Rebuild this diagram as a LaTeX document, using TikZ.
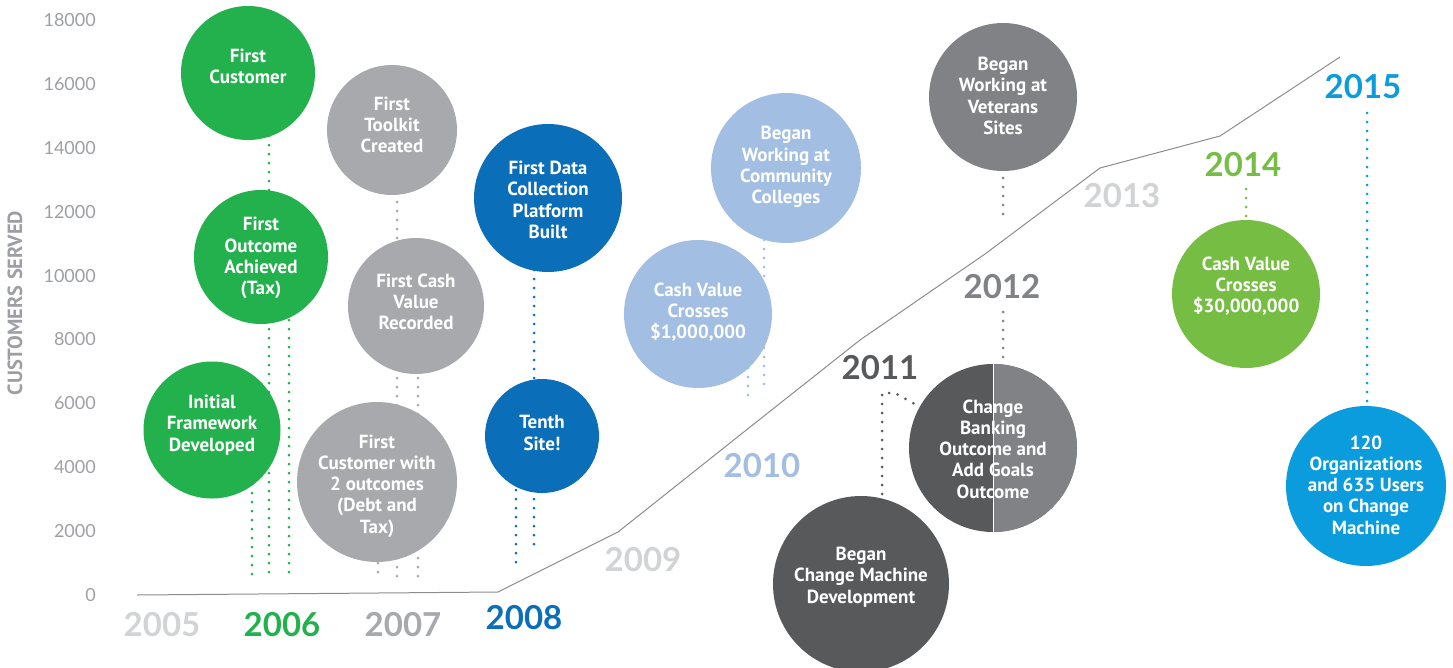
\documentclass[tikz,border=0pt]{standalone}
\usepackage{fontspec}
\setmainfont{PT Sans}
\newfontfamily\yearfont{Lato}
\usetikzlibrary{backgrounds}
\definecolor{cgreen}{HTML}{23B14D}
\definecolor{cgrayA}{HTML}{A7A9AC}
\definecolor{cblueA}{HTML}{0B6EB9}
\definecolor{clblue}{HTML}{A2BEE2}
\definecolor{cdark}{HTML}{58595B}
\definecolor{cmid}{HTML}{808285}
\definecolor{clgray}{HTML}{D1D3D4}
\definecolor{cgreenB}{HTML}{76BE43}
\definecolor{cblueB}{HTML}{0A9CDD}
\definecolor{ctick}{HTML}{9D9FA2}
\definecolor{cline}{HTML}{8C8C8C}
\begin{document}
\begin{tikzpicture}[x=1pt,y=-1pt,
  circ/.style={circle,inner sep=0pt,minimum size=#1,draw=none},
  ctext/.style={text=white,align=center,font=\fontsize{19}{21.3}\selectfont\bfseries,inner sep=0pt},
  yr/.style={font=\yearfont\fontsize{33}{33}\selectfont\bfseries,inner sep=0pt},
  tick/.style={anchor=east,text=ctick,font=\yearfont\fontsize{18}{18}\selectfont,inner sep=0pt},
  dots/.style={line width=3pt,dash pattern=on 0pt off 9pt,line cap=round},
  curve/.style={draw=cline,line width=1pt}
]
\useasboundingbox (0,0) rectangle (1453,667);

% axis
\foreach \v [count=\i from 0] in {18000,16000,14000,12000,10000,8000,6000,4000,2000,0}
  \node[tick] (tk\i) at (96,{20+\i*63.9}) {\v};
\node[rotate=90,text=ctick,font=\fontsize{20.5}{20.5}\selectfont\bfseries,inner sep=0pt] (ytitle) at (15,303) {CUSTOMERS SERVED};

% growth curve
\coordinate (p0) at (137,595);
\coordinate (p1) at (498,592);
\coordinate (p2) at (618,532);
\coordinate (p3) at (740,435);
\coordinate (p4) at (860,340);
\coordinate (p5) at (985,254);
\coordinate (p6) at (1100,168);
\coordinate (p7) at (1220,136);
\coordinate (p8) at (1340,57);
\draw[curve] (p0) -- (p1) -- (p2) -- (p3) -- (p4) -- (p5) -- (p6) -- (p7) -- (p8);

% year labels
\node[yr,text=clgray] (y05) at (162,625) {2005};
\node[yr,text=cgreen] (y06) at (282,625) {2006};
\node[yr,text=cgrayA] (y07) at (403,625) {2007};
\node[yr,text=cblueA] (y08) at (524,618) {2008};
\node[yr,text=clgray] (y09) at (643,560) {2009};
\node[yr,text=clblue] (y10) at (762,466) {2010};
\node[yr,text=cdark] (y11) at (880,368) {2011};
\node[yr,text=cmid] (y12) at (1002,287) {2012};
\node[yr,text=clgray] (y13) at (1122,196) {2013};
\node[yr,text=cgreenB] (y14) at (1243,165) {2014};
\node[yr,text=cblueB] (y15) at (1363,87) {2015};

% circles
\node[circ=134,fill=cgreen] (c1) at (248,73) {};
\node[circ=134,fill=cgreen] (c2) at (261,257) {};
\node[circ=137,fill=cgreen] (c3) at (212,430) {};
\node[circ=130,fill=cgrayA] (c4) at (392,130) {};
\node[circ=136,fill=cgrayA] (c5) at (416,306) {};
\node[circ=160,fill=cgrayA] (c6) at (377,482) {};
\node[circ=148,fill=cblueA] (c7) at (548,198) {};
\node[circ=114,fill=cblueA] (c8) at (542,436) {};
\node[circ=150,fill=clblue] (c9) at (786,168) {};
\node[circ=148,fill=clblue] (c10) at (698,314) {};
\node[circ=176,fill=cdark] (c11) at (861,584) {};
\node[circ=168,fill=cdark,path picture={
   \fill[cmid] (path picture bounding box.north) rectangle (path picture bounding box.south east);
   \draw[white,line width=0.6pt] (path picture bounding box.north) -- (path picture bounding box.south);}] (c12) at (993,448) {};
\node[circ=148,fill=cmid] (c13) at (1003,97) {};
\node[circ=148,fill=cgreenB] (c14) at (1246,294) {};
\node[circ=160,fill=cblueB] (c15) at (1366,486) {};

% texts
\node[ctext] (t1) at (248,66.5) {First\\Customer};
\node[ctext] (t2) at (261,258) {First\\Outcome\\Achieved\\(Tax)};
\node[ctext] (t3) at (212,425) {Initial\\Framework\\Developed};
\node[ctext] (t4) at (392,125) {First\\Toolkit\\Created};
\node[ctext] (t5) at (416,302) {First Cash\\Value\\Recorded};
\node[ctext] (t6) at (377,486) {First\\Customer with\\2 outcomes\\(Debt and\\Tax)};
\node[ctext] (t7) at (548,200) {First Data\\Collection\\Platform\\Built};
\node[ctext] (t8) at (542,433) {Tenth\\Site!};
\node[ctext] (t9) at (786,167) {Began\\Working at\\Community\\Colleges};
\node[ctext] (t10) at (698,312) {Cash Value\\Crosses\\\$1,000,000};
\node[ctext] (t11) at (861,577) {Began\\Change Machine\\Development};
\node[ctext] (t12) at (993,449) {Change\\Banking\\Outcome and\\Add Goals\\Outcome};
\node[ctext] (t13) at (1003,96) {Began\\Working at\\Veterans\\Sites};
\node[ctext] (t14) at (1246,286) {Cash Value\\Crosses\\\$30,000,000};
\node[ctext] (t15) at (1366,485) {120\\Organizations\\and 635 Users\\on Change\\Machine};

% dotted connectors (behind circles)
\begin{scope}[on background layer]
  % 2006
  \draw[dots,cgreen] ([xshift=21pt]c1.center) -- ([xshift=8pt]c2.center);
  \coordinate (g1) at (269,577);
  \coordinate (g2) at (289,577);
  \coordinate (g3) at (252,577);
  \draw[dots,cgreen] ([xshift=8pt]c2.center) -- (g1);
  \draw[dots,cgreen] ([xshift=28pt]c2.center) -- (g2);
  \draw[dots,cgreen] ([xshift=40pt]c3.center) -- (g3);
  % 2007
  \coordinate (k1) at (397,577);
  \coordinate (k2) at (418,577);
  \coordinate (k3) at (378,577);
  \draw[dots,cgrayA] ([xshift=5pt]c4.center) -- ([xshift=-19pt]c5.center);
  \draw[dots,cgrayA] ([xshift=-19pt]c5.center) -- (k1);
  \draw[dots,cgrayA] ([xshift=2pt]c5.center) -- (k2);
  \draw[dots,cgrayA] ([xshift=1pt]c6.center) -- (k3);
  % 2008
  \coordinate (b1) at (534,548);
  \coordinate (b2) at (516,562);
  \draw[dots,cblueA] ([xshift=-14pt]c7.center) -- ([xshift=-8pt]c8.center);
  \draw[dots,cblueA] ([xshift=-8pt]c8.center) -- (b1);
  \draw[dots,cblueA] ([xshift=-26pt]c8.center) -- (b2);
  % 2010
  \coordinate (l1) at (764,390);
  \coordinate (l2) at (748,403);
  \draw[dots,clblue] ([xshift=-22pt]c9.center) -- (l1);
  \draw[dots,clblue] ([xshift=50pt]c10.center) -- (l2);
  % 2011
  \coordinate (d1) at (882,393);
  \coordinate (d2) at (895,393);
  \draw[dots,cdark] ([xshift=21pt]c11.center) -- (d1) -- (d2) -- (c12.center);
  % 2012 and 2013
  \coordinate (m1) at (1003,312);
  \coordinate (m2) at (1003,220);
  \draw[dots,cmid] (m1) -- ([xshift=10pt]c12.center);
  \draw[dots,cmid] (c13.center) -- (m2);
  % 2014
  \coordinate (n1) at (1246,189);
  \draw[dots,cgreenB] (n1) -- (c14.center);
  % 2015
  \coordinate (q1) at (1367,113);
  \draw[dots,cblueB] (q1) -- ([xshift=1pt]c15.center);
\end{scope}
\end{tikzpicture}
\end{document}
